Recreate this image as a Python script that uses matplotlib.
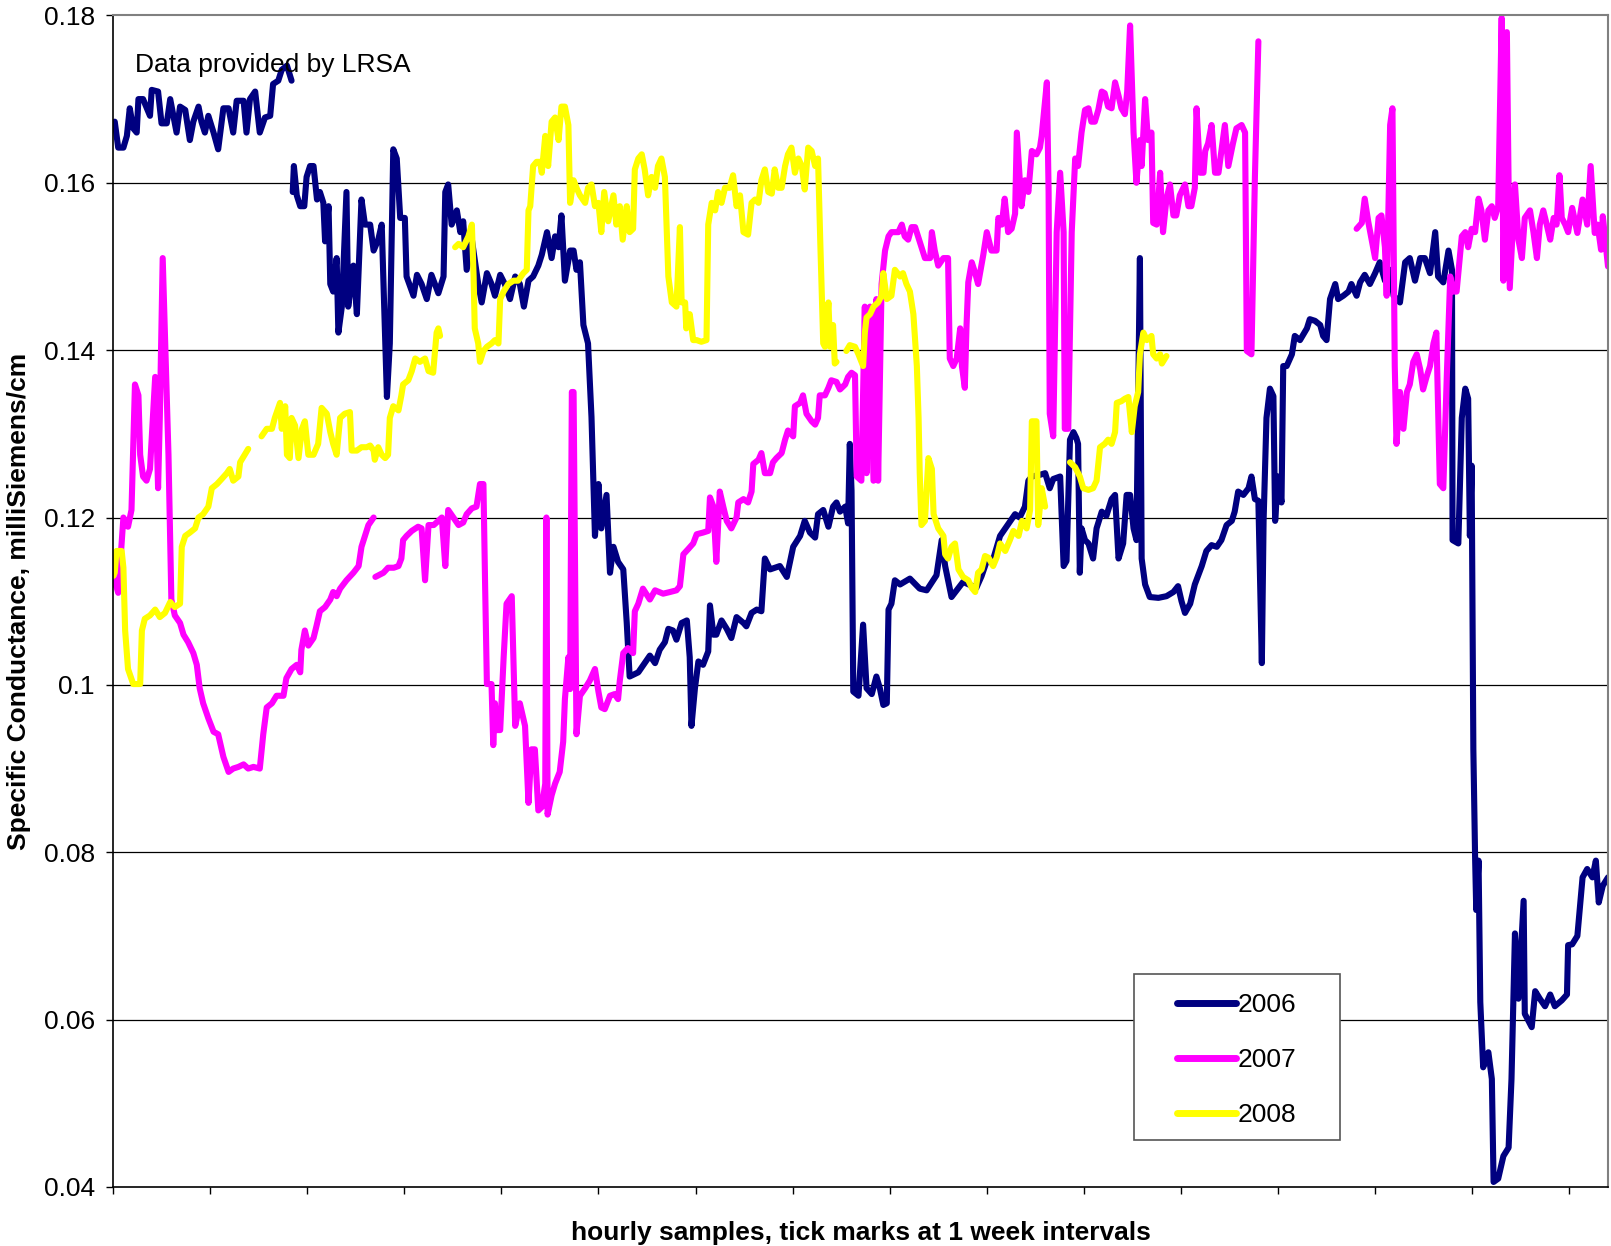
import numpy as np
import matplotlib
matplotlib.use("Agg")
import matplotlib.pyplot as plt
from matplotlib.patches import Rectangle

plt.rcParams['font.family'] = ['Liberation Sans', 'DejaVu Sans']

# ---- data: (hourly sample index, specific conductance mS/cm); None = gap ----
series_2006 = [
    (3,.1673),(9,.1642),(18,.1642),(24,.1656),(29,.1689),(35,.1665),(41,.166),(44,.170),(52,.170),(64,.168),
    (67,.1711),(78,.1709),(84,.1671),(93,.1671),(99,.170),(104,.1682),(110,.166),(116,.1691),(125,.1687),(133,.1651),
    (139,.1673),(148,.1691),(153,.1673),(159,.166),(165,.168),(174,.166),(182,.164),(191,.1689),(200,.1689),(208,.166),
    (214,.1698),(226,.1698),(231,.166),(237,.170),(246,.1709),(254,.166),(263,.1678),(272,.168),(277,.1718),(286,.1722),
    (292,.1735),(301,.174),(309,.1722), None,
    (311,.1589),(313,.162),(318,.1585),(324,.1572),(331,.1572),(335,.1607),(341,.162),(347,.162),(353,.158),(358,.1589),
    (364,.1576),(367,.153),(373,.1572),(376,.1479),(381,.147),(387,.151),(390,.1421),(396,.1452),(404,.1589),(407,.1452),
    (416,.1501),(422,.1443),(430,.158),(436,.155),(445,.155),(451,.1519),(459,.1532),(465,.155),(474,.1344),(479,.1408),
    (485,.164),(491,.1629),(497,.1558),(505,.1558),(508,.1488),(520,.1465),(526,.149),(534,.1479),(543,.1461),(551,.149),
    (563,.1468),(572,.1488),(575,.1589),(580,.1598),(586,.155),(595,.1567),(601,.1541),(606,.1554),(612,.1496),(621,.1532),
    (632,.1479),(638,.1457),(647,.1492),(655,.1479),(661,.1465),(670,.149),(678,.1479),(687,.1461),(696,.1488),(704,.1479),
    (711,.1452),(719,.1483),(727,.1488),(736,.1501),(742,.1514),(751,.1541),(759,.151),(765,.1536),(771,.1523),(776,.1561),
    (782,.1483),(791,.1519),(797,.1519),(802,.1496),(808,.1505),(814,.143),(822,.1408),(828,.132),(834,.1178),(840,.124),
    (845,.1187),(854,.1227),(860,.1134),(866,.1165),(874,.1147),(883,.1138),(889,.1074),(894,.101),(909,.1015),(920,.1026),
    (929,.1035),(938,.1026),(946,.1042),(955,.1051),(961,.1067),(969,.1065),(975,.1054),(984,.1074),(993,.1077),(998,.1033),
    (1001,.0951),(1007,.0996),(1013,.1028),(1021,.1024),(1030,.104),(1033,.1095),(1039,.106),(1044,.106),(1053,.1077),(1062,.1067),
    (1070,.1056),(1079,.1081),(1091,.1074),(1096,.107),(1105,.1086),(1114,.109),(1122,.1088),(1128,.1151),(1137,.1138),(1154,.1142),
    (1166,.1129),(1177,.1165),(1189,.1178),(1197,.1196),(1206,.1182),(1215,.1176),(1220,.1204),(1229,.1209),(1238,.1189),(1246,.1213),
    (1252,.1218),(1258,.1207),(1267,.1213),(1272,.1193),(1275,.1288),(1278,.1232),(1281,.0992),(1290,.0987),(1298,.1072),(1304,.0996),
    (1313,.0989),(1321,.101),(1327,.0996),(1333,.0976),(1339,.0978),(1342,.109),(1347,.1097),(1353,.1125),(1362,.112),(1379,.1127),
    (1396,.1115),(1408,.1113),(1425,.1131),(1434,.1173),(1440,.1142),(1451,.1105),(1471,.1123),(1494,.1116),(1503,.113),(1512,.1148),
    (1523,.115),(1535,.1178),(1544,.1187),(1552,.1195),(1561,.1204),(1569,.12),(1578,.1213),(1584,.1244),(1590,.1249),(1604,.1251),
    (1613,.1253),(1621,.1235),(1627,.1246),(1639,.1249),(1645,.1142),(1650,.1148),(1656,.1293),(1662,.1302),(1667,.1295),(1670,.1288),
    (1673,.1134),(1676,.1187),(1682,.1173),(1688,.1169),(1696,.1151),(1702,.1187),(1711,.1207),(1719,.1202),(1728,.1222),(1734,.1227),
    (1740,.1151),(1748,.1169),(1754,.1227),(1760,.1227),(1766,.1187),(1771,.1173),(1777,.151),(1780,.1151),(1786,.112),(1794,.1105),
    (1809,.1104),(1823,.1106),(1835,.1111),(1843,.1118),(1849,.110),(1855,.1086),(1864,.1097),(1872,.112),(1884,.1142),(1892,.116),
    (1901,.1167),(1910,.1165),(1918,.1173),(1927,.1191),(1936,.1196),(1941,.1207),(1947,.1231),(1956,.1227),(1965,.1235),(1970,.1249),
    (1976,.1222),(1982,.122),(1988,.1026),(1991,.1196),(1996,.1319),(2002,.1354),(2008,.1345),(2011,.1196),(2016,.1249),(2022,.1218),
    (2025,.1381),(2031,.1381),(2040,.1395),(2045,.1417),(2054,.1412),(2066,.1426),(2071,.1437),(2080,.1435),(2089,.143),(2094,.1417),
    (2100,.1412),(2106,.1461),(2115,.1479),(2120,.1461),(2129,.1465),(2138,.147),(2143,.1479),(2152,.1465),(2158,.1481),(2166,.149),
    (2175,.1479),(2184,.1492),(2192,.1505),(2201,.1483),(2210,.1496),(2216,.1465),(2227,.1457),(2236,.1505),(2244,.151),(2253,.1483),
    (2262,.151),(2270,.151),(2279,.1492),(2288,.1541),(2293,.1488),(2302,.1481),(2311,.1519),(2317,.1496),(2318,.1173),(2328,.1169),
    (2334,.1319),(2340,.1354),(2345,.1342),(2348,.1178),(2351,.1262),(2354,.0923),(2357,.0795),(2359,.0731),(2363,.079),(2366,.0621),
    (2371,.0543),(2380,.0561),(2386,.0529),(2389,.0406),(2397,.041),(2406,.0437),(2415,.0447),(2420,.0529),(2426,.0703),(2432,.0625),
    (2441,.0742),(2443,.0607),(2455,.0591),(2461,.0634),(2469,.0625),(2478,.0616),(2487,.063),(2495,.0616),(2507,.0623),(2516,.063),
    (2518,.0689),(2525,.069),(2534,.070),(2543,.077),(2551,.078),(2560,.077),(2566,.079),(2571,.074),(2578,.076),(2587,.077),
]

series_2007 = [
    (0,.112),(3,.1125),(9,.111),(18,.12),(26,.1189),(32,.1209),(38,.1359),(44,.1346),(47,.1275),(52,.1249),
    (58,.1244),(64,.1258),(68,.1306),(73,.1368),(78,.1235),(81,.1319),(86,.151),(90,.1417),(96,.1275),(101,.1102),
    (107,.1083),(116,.1074),(122,.106),(130,.1051),(139,.1038),(145,.1024),(150,.0996),(156,.0978),(165,.096),(174,.0944),
    (182,.0941),(191,.0914),(200,.0896),(208,.09),(217,.0902),(226,.0905),(234,.09),(243,.0902),(254,.09),(260,.0941),
    (266,.0973),(275,.0978),(283,.0987),(295,.0987),(300,.1008),(309,.1019),(318,.1024),(324,.1015),(326,.1042),(332,.1065),
    (338,.1047),(347,.1056),(352,.107),(358,.1088),(367,.1093),(376,.1102),(381,.1111),(387,.1106),(393,.1115),(404,.1125),
    (416,.1134),(425,.1142),(430,.1165),(436,.1178),(442,.1191),(451,.12), None,
    (454,.1129),(468,.1134),(476,.114),(486,.114),(494,.1142),(499,.1151),(502,.1173),(508,.1178),(517,.1184),(528,.1189),
    (534,.1187),(540,.1125),(546,.1191),(555,.1191),(563,.1196),(569,.120),(575,.1142),(580,.1209),(589,.12),(598,.1191),
    (606,.1194),(612,.1204),(621,.1211),(629,.1213),(635,.124),(641,.124),(644,.1116),(647,.1001),(655,.1001),(658,.0928),
    (661,.0978),(664,.0946),(670,.0946),(676,.1033),(681,.1097),(690,.1106),(696,.0951),(704,.0978),(713,.0951),(719,.0859),
    (724,.0923),(730,.0923),(736,.085),(742,.0854),(748,.0882),(750,.12),(752,.0845),(759,.0868),(765,.0882),(773,.0896),
    (779,.0932),(782,.0983),(788,.1033),(791,.0995),(794,.135),(797,.135),(802,.0941),(808,.0987),(817,.0996),(825,.1005),
    (834,.1019),(840,.0992),(845,.0973),(851,.0971),(860,.0987),(868,.0989),(874,.0983),(877,.1005),(883,.1038),(891,.1044),
    (900,.1038),(903,.1088),(909,.1097),(917,.1115),(929,.1102),(938,.1113),(952,.1109),(964,.1111),(975,.1113),(981,.1118),
    (987,.1156),(995,.1162),(1004,.1169),(1010,.118),(1021,.1182),(1030,.1184),(1033,.1224),(1039,.1213),(1044,.1147),(1050,.1231),
    (1056,.1213),(1062,.1196),(1070,.1187),(1079,.12),(1082,.1218),(1091,.1222),(1099,.1218),(1105,.1231),(1108,.1264),(1117,.1269),
    (1122,.1277),(1128,.1253),(1137,.1253),(1142,.1266),(1148,.1271),(1157,.1277),(1163,.1293),(1168,.1304),(1177,.1297),(1180,.1333),
    (1189,.1337),(1194,.1346),(1200,.1324),(1209,.1315),(1215,.1311),(1220,.1319),(1223,.1346),(1232,.1346),(1238,.1355),(1243,.1364),
    (1252,.1362),(1258,.1353),(1267,.1359),(1272,.1368),(1278,.1373),(1284,.137),(1287,.1249),(1295,.1244),(1301,.1452),(1304,.1253),
    (1310,.1452),(1316,.1244),(1321,.1461),(1324,.1244),(1330,.1479),(1336,.1519),(1342,.1536),(1347,.1541),(1359,.1541),(1365,.155),
    (1370,.1536),(1376,.1532),(1382,.1547),(1388,.1547),(1393,.1536),(1399,.1523),(1405,.151),(1414,.151),(1417,.1541),(1422,.1519),
    (1428,.1501),(1437,.151),(1445,.151),(1448,.139),(1454,.1381),(1460,.139),(1466,.1426),(1469,.1381),(1474,.1355),(1477,.143),
    (1480,.1481),(1486,.1505),(1492,.1492),(1497,.1479),(1506,.1514),(1512,.1541),(1520,.1519),(1529,.1519),(1532,.1558),(1538,.155),
    (1543,.1581),(1549,.1541),(1555,.1545),(1561,.1563),(1564,.166),(1572,.1572),(1578,.1603),(1584,.1589),(1590,.1638),(1598,.1634),
    (1604,.1642),(1607,.1656),(1616,.172),(1619,.1589),(1621,.1324),(1627,.1297),(1633,.1541),(1639,.1612),(1645,.1541),(1647,.1306),
    (1653,.1306),(1659,.1541),(1665,.1629),(1670,.162),(1676,.166),(1682,.1687),(1688,.1689),(1693,.1673),(1699,.1673),(1705,.1687),
    (1711,.1709),(1716,.1707),(1722,.1691),(1728,.1689),(1734,.172),(1740,.1704),(1745,.1689),(1751,.1682),(1755,.1709),(1760,.1788),
    (1766,.166),(1771,.16),(1777,.1651),(1780,.162),(1786,.17),(1791,.1651),(1797,.166),(1800,.1552),(1806,.155),(1812,.1612),
    (1817,.1541),(1823,.1581),(1829,.1598),(1835,.1561),(1840,.1561),(1846,.1585),(1855,.1598),(1861,.1572),(1866,.1572),(1872,.1594),
    (1875,.1689),(1881,.1612),(1887,.1612),(1890,.1638),(1895,.1647),(1901,.1669),(1907,.1612),(1913,.1612),(1918,.1638),(1924,.1669),
    (1930,.162),(1938,.1647),(1944,.1665),(1953,.1669),(1959,.166),(1962,.1399),(1970,.1395),(1976,.1607),(1982,.1769), None,
    (2152,.1545),(2161,.1552),(2166,.1581),(2172,.1554),(2178,.1532),(2184,.151),(2190,.1558),(2195,.1561),(2201,.1523),(2204,.1465),
    (2210,.1669),(2214,.1689),(2218,.1381),(2221,.1288),(2227,.135),(2233,.1306),(2239,.135),(2244,.1359),(2250,.1386),(2256,.1395),
    (2262,.1377),(2267,.1353),(2273,.1368),(2279,.1381),(2285,.1408),(2290,.1421),(2296,.124),(2302,.1235),(2308,.1368),(2314,.1488),
    (2319,.147),(2325,.147),(2334,.1536),(2340,.1541),(2345,.1523),(2351,.1545),(2357,.1541),(2363,.1581),(2368,.1567),(2374,.1532),
    (2380,.1567),(2386,.1572),(2391,.1558),(2397,.1572),(2403,.1797),(2406,.1483),(2412,.178),(2417,.1474),(2426,.1598),(2432,.1532),
    (2438,.151),(2443,.1558),(2452,.1567),(2458,.1541),(2464,.151),(2469,.155),(2475,.1567),(2481,.155),(2487,.1532),(2493,.1558),
    (2498,.155),(2503,.1609),(2507,.1558),(2513,.155),(2518,.1541),(2525,.157),(2534,.154),(2543,.158),(2551,.155),(2557,.162),
    (2564,.154),(2569,.155),(2575,.152),(2578,.156),(2587,.150),
]

series_2008 = [
    (0,.113),(3,.1134),(6,.116),(15,.116),(18,.114),(21,.1065),(26,.1019),(35,.1001),(47,.1001),(50,.1065),
    (55,.1079),(64,.1083),(73,.109),(81,.1081),(90,.1086),(99,.1099),(107,.1093),(116,.1097),(119,.1165),(125,.1178),
    (133,.1182),(142,.1187),(148,.12),(156,.1204),(165,.1213),(171,.1235),(180,.124),(188,.1246),(197,.1253),(202,.1258),
    (208,.1244),(217,.1249),(220,.1266),(228,.1275),(234,.1282), None,
    (257,.1297),(266,.1306),(275,.1306),(280,.1319),(289,.1337),(292,.1306),(298,.1333),(301,.1275),(306,.1271),(309,.1319),
    (315,.131),(321,.1271),(327,.1306),(332,.1315),(338,.1275),(347,.1275),(355,.1288),(361,.1331),(370,.1324),(376,.1302),
    (381,.1288),(387,.1275),(393,.1319),(401,.1324),(410,.1326),(413,.128),(422,.128),(430,.1284),(439,.1284),(445,.1286),
    (451,.128),(453,.1269),(459,.1284),(465,.1275),(471,.1271),(476,.1275),(479,.1319),(485,.1333),(494,.1328),(499,.1346),
    (502,.1359),(511,.1364),(517,.1375),(523,.139),(531,.1386),(540,.139),(546,.1375),(554,.1373),(560,.1421),(563,.1426),
    (566,.1417), None,
    (592,.1523),(598,.1527),(606,.1523),(615,.1536),(621,.155),(624,.1488),(626,.1426),(632,.1408),(635,.1386),(641,.1399),
    (647,.1404),(655,.1408),(661,.1412),(667,.1408),(670,.1461),(676,.147),(684,.1479),(693,.1483),(701,.1483),(710,.1492),
    (716,.1496),(719,.1567),(722,.1572),(727,.162),(733,.1625),(739,.1625),(742,.1612),(748,.1656),(753,.162),(759,.1673),
    (765,.1678),(771,.1651),(776,.1691),(782,.1691),(788,.1669),(791,.1576),(797,.1603),(802,.1594),(808,.1585),(817,.1576),
    (822,.1594),(828,.1598),(834,.1572),(840,.1576),(845,.1541),(850,.1589),(857,.1554),(866,.1585),(871,.155),(877,.1572),
    (882,.1532),(889,.1572),(894,.1541),(900,.1545),(903,.1616),(909,.1629),(915,.1634),(920,.1616),(926,.1585),(932,.1607),
    (938,.1594),(943,.162),(949,.1629),(955,.1607),(961,.1488),(967,.1457),(975,.1452),(981,.1547),(984,.1457),(990,.1457),
    (992,.1426),(998,.1443),(1004,.1412),(1010,.1412),(1018,.141),(1027,.1412),(1030,.155),(1036,.1576),(1042,.1567),(1047,.1589),
    (1053,.1576),(1059,.1594),(1067,.1594),(1073,.1609),(1079,.1572),(1085,.1585),(1091,.1541),(1099,.1538),(1105,.1576),(1111,.158),
    (1117,.1576),(1122,.1603),(1128,.1616),(1134,.1589),(1140,.1587),(1145,.1616),(1151,.1594),(1157,.1594),(1163,.162),(1168,.1634),
    (1174,.1642),(1180,.1612),(1186,.1629),(1192,.162),(1197,.1592),(1203,.1642),(1209,.1638),(1215,.162),(1220,.1629),(1224,.1527),
    (1229,.1408),(1232,.1404),(1238,.1457),(1241,.1404),(1246,.143),(1249,.1384),(1252,.1386), None,
    (1269,.1399),(1275,.1406),(1284,.1404),(1290,.1395),(1298,.1381),(1301,.1421),(1304,.1439),(1310,.1443),(1316,.1452),(1324,.1457),
    (1330,.1465),(1333,.1492),(1339,.1461),(1347,.1465),(1353,.1496),(1362,.1488),(1367,.1492),(1373,.1479),(1379,.147),(1385,.1443),
    (1391,.1381),(1394,.1319),(1396,.1253),(1399,.1191),(1405,.1196),(1411,.1271),(1417,.1258),(1420,.1204),(1428,.1187),(1437,.1178),
    (1440,.1156),(1445,.1151),(1451,.1165),(1457,.1169),(1463,.1138),(1471,.1129),(1480,.1125),(1486,.1116),(1492,.1111),(1497,.1134),
    (1503,.1138),(1509,.1154),(1515,.1152),(1523,.1142),(1529,.1152),(1535,.1169),(1544,.116),(1552,.1173),(1558,.1184),(1567,.1178),
    (1573,.1196),(1581,.1187),(1587,.1209),(1590,.1315),(1598,.1315),(1601,.1191),(1607,.1235),(1613,.1213), None,
    (1656,.1266),(1665,.126),(1673,.1249),(1679,.1235),(1688,.1233),(1696,.1235),(1702,.1244),(1708,.1284),(1716,.1288),(1722,.1293),
    (1728,.1288),(1734,.1302),(1737,.1337),(1745,.1339),(1751,.1342),(1757,.1344),(1763,.1302),(1768,.1333),(1774,.135),(1777,.1395),
    (1783,.1421),(1789,.1412),(1797,.1417),(1800,.1395),(1806,.139),(1812,.1395),(1815,.1384),(1823,.1393),
]

series_names = ['2006', '2007', '2008']
series_colors = ['#000080', '#FF00FF', '#FFFF00']
y_ticks = [0.04, 0.06, 0.08, 0.10, 0.12, 0.14, 0.16, 0.18]
y_tick_labels = ['0.04', '0.06', '0.08', '0.1', '0.12', '0.14', '0.16', '0.18']
hours_per_week = 168
x_max = 2587


def split(series):
    xs, ys = [], []
    for p in series:
        if p is None:
            xs.append(np.nan); ys.append(np.nan)
        else:
            xs.append(p[0]); ys.append(p[1])
    return np.array(xs, float), np.array(ys, float)


W, H = 1611, 1246
fig = plt.figure(figsize=(W / 100, H / 100), dpi=100)
L, R, T, B = 113, 1608, 15.4, 1187
ax = fig.add_axes([L / W, 1 - B / H, (R - L) / W, (B - T) / H])

for yv in y_ticks[1:-1]:
    ax.axhline(yv, color='black', lw=0.9, zorder=1)

for name, color, s in zip(series_names, series_colors, [series_2006, series_2007, series_2008]):
    x, y = split(s)
    ax.plot(x, y, color=color, lw=4.4, label=name, solid_joinstyle='round',
            solid_capstyle='round', zorder=2)

ax.set_xlim(0, x_max)
ax.set_ylim(0.04, 0.18)
ax.set_yticks(y_ticks)
ax.set_yticklabels(y_tick_labels, fontsize=19)
ax.set_xticks(np.arange(0, x_max, hours_per_week))
ax.set_xticklabels([])
ax.tick_params(axis='y', direction='out', length=5, width=1, pad=8)
ax.tick_params(axis='x', direction='out', length=5, width=1)

for side in ['top', 'right']:
    ax.spines[side].set_color('#808080')
    ax.spines[side].set_linewidth(1.5)
for side in ['left', 'bottom']:
    ax.spines[side].set_color('black')
    ax.spines[side].set_linewidth(1.2)

ax.set_ylabel('Specific Conductance, milliSiemens/cm', fontsize=19, fontweight='bold', labelpad=9)
ax.set_xlabel('hourly samples, tick marks at 1 week intervals', fontsize=19, fontweight='bold', labelpad=16)

ax.text(0.015, 0.958, 'Data provided by LRSA', transform=ax.transAxes, fontsize=19,
        ha='left', va='center')

# legend box
ax.add_patch(Rectangle((0.683, 0.0404), 0.1375, 0.1417, transform=ax.transAxes,
                       facecolor='white', edgecolor='#555555', lw=1.2, zorder=5))
leg = ax.legend(loc='upper left', bbox_to_anchor=(0.7117, 0.1655), frameon=False,
                fontsize=19, handlelength=2.24, handletextpad=0.05, labelspacing=1.18,
                borderpad=0, borderaxespad=0)
leg.set_zorder(6)
for line in leg.get_lines():
    line.set_linewidth(5.0)
    line.set_solid_capstyle('round')

fig.savefig('out.png', dpi=100)
